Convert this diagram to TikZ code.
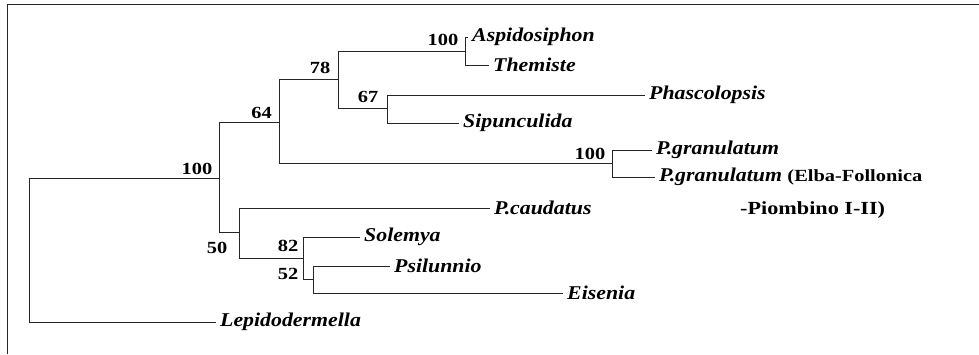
\documentclass[tikz,border=0pt]{standalone}
\usepackage{fontspec}
\setmainfont[FakeStretch=1.2]{Liberation Serif}
\newfontfamily\taxfont[FakeStretch=1.12]{Liberation Serif}
\begin{document}
\begin{tikzpicture}[x=1pt,y=-1pt,
  br/.style={draw=black!85, line width=1pt},
  taxon/.style={anchor=west, inner xsep=4pt, inner ysep=0pt, font=\taxfont\fontsize{19.5}{21}\selectfont\bfseries\itshape},
  plain/.style={anchor=west, inner xsep=0pt, inner ysep=0pt, font=\fontsize{18.5}{20}\selectfont\bfseries},
  bs/.style={inner sep=0pt, font=\fontsize{17}{19}\selectfont\bfseries}]
\useasboundingbox (0,0) rectangle (979,354);
\draw[line width=1.5pt, black!85] (7.5,354) -- (7.5,4.5) -- (979,4.5);
% internal nodes
\coordinate (root) at (29,250);
\coordinate (n100) at (219,178);
\coordinate (n64) at (279,122);
\coordinate (n78) at (338,79);
\coordinate (nasp) at (465,51);
\coordinate (n67) at (387,108);
\coordinate (npg) at (612,163.5);
\coordinate (n50) at (239,232.5);
\coordinate (n82) at (303,258);
\coordinate (n52) at (313,279.5);
% taxa
\node[taxon] (asp) at (468,37) {Aspidosiphon};
\node[taxon] (the) at (489,65) {Themiste};
\node[taxon] (pha) at (645,95) {Phascolopsis};
\node[taxon] (sip) at (459,123) {Sipunculida};
\node[taxon] (pg1) at (652,150) {P.granulatum};
\node[taxon] (pg2) at (655,177) {P.granulatum {\normalfont\fontsize{17}{20}\selectfont\bfseries(Elba-Follonica}};
\node[plain] (pg2b) at (740,210) {-Piombino I-II)};
\node[taxon] (pca) at (490,208) {P.caudatus};
\node[taxon] (sol) at (360,237) {Solemya};
\node[taxon] (psi) at (390,266) {Psilunnio};
\node[taxon] (eis) at (563,293) {Eisenia};
\node[taxon] (lep) at (216,322) {Lepidodermella};
% branches
\draw[br] (root) |- (n100);
\draw[br] (root) |- (lep.west);
\draw[br] (n100) |- (n64);
\draw[br] (n100) |- (n50);
\draw[br] (n64) |- (n78);
\draw[br] (n64) |- (npg);
\draw[br] (n78) |- (nasp);
\draw[br] (n78) |- (n67);
\draw[br] (nasp) |- (asp.west);
\draw[br] (nasp) |- (the.west);
\draw[br] (n67) |- (pha.west);
\draw[br] (n67) |- (sip.west);
\draw[br] (npg) |- (pg1.west);
\draw[br] (npg) |- (pg2.west);
\draw[br] (n50) |- (pca.west);
\draw[br] (n50) |- (n82);
\draw[br] (n82) |- (sol.west);
\draw[br] (n82) |- (n52);
\draw[br] (n52) |- (psi.west);
\draw[br] (n52) |- (eis.west);
% bootstrap values
\node[bs] (b100a) at (197,169) {100};
\node[bs] (b64) at (261.5,113) {64};
\node[bs] (b78) at (320,68) {78};
\node[bs] (b100b) at (443,40) {100};
\node[bs] (b67) at (368,97) {67};
\node[bs] (b100c) at (590,154) {100};
\node[bs] (b50) at (217,248) {50};
\node[bs] (b82) at (288,246) {82};
\node[bs] (b52) at (288,274) {52};
\end{tikzpicture}
\end{document}
